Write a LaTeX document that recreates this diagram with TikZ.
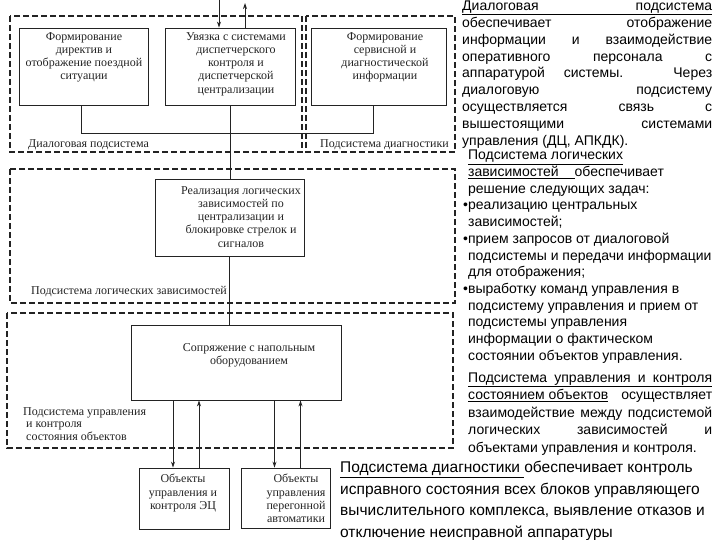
\documentclass[tikz,border=0pt]{standalone}
\usepackage{fontspec}
\setmainfont{Liberation Serif}
\newfontfamily\descfont{Liberation Sans}
\usetikzlibrary{arrows.meta}
\definecolor{inkgray}{RGB}{35,35,35}
\newcommand{\jline}[2]{\makebox[#1][s]{#2}}

\tikzset{
  block/.style={draw=inkgray, line width=0.9pt, inner sep=0pt},
  blocktext/.style={anchor=north, align=center, inner sep=0pt, text=inkgray,
    font=\fontsize{12}{13.3}\selectfont},
  framebox/.style={draw=inkgray, line width=1.6pt, dash pattern=on 6pt off 3pt},
  framelabel/.style={anchor=west, inner sep=0pt, text=inkgray,
    font=\fontsize{12}{12.7}\selectfont},
  link/.style={draw=inkgray, line width=0.9pt},
  flow/.style={link, -{Stealth[length=6pt,width=4pt]}},
  desc/.style={anchor=north west, align=left, inner sep=0pt,
    font=\descfont\fontsize{14}{17.2}\selectfont}
}

\begin{document}
\begin{tikzpicture}[x=1pt, y=-1pt]
    \useasboundingbox (0,0) rectangle (720,540);
    % Subsystem frames
    \draw[framebox] (10,16) rectangle (302,152);
    \draw[framebox] (306,16) rectangle (455,152);
    \draw[framebox] (10,169) rectangle (455,303);
    \draw[framebox] (7,313) rectangle (453,448);
    \node[framelabel] (dialoglabel) at (28,145) {Диалоговая подсистема};
    \node[framelabel] (diaglabel) at (320,145) {Подсистема диагностики};
    \node[framelabel] (logiclabel) at (31,292) {Подсистема логических зависимостей};
    \node[framelabel, anchor=north west, align=left] (controllabel) at (23,407)
        {Подсистема управления\\\ и контроля\\\ состояния объектов};

    % Blocks
    \node[block, minimum width=129pt, minimum height=77pt] (directives) at (83.5,66.5) {};
    \node[block, minimum width=130pt, minimum height=77pt] (dispatch) at (230,66.5) {};
    \node[block, minimum width=135pt, minimum height=77pt] (diaginfo) at (378.5,66.5) {};
    \node[block, minimum width=149pt, minimum height=77pt] (logic) at (229.5,217.5) {};
    \node[block, minimum width=210pt, minimum height=75pt] (interface) at (236,362.5) {};
    \node[block, minimum width=90pt, minimum height=61pt] (objstation) at (184,498.5) {};
    \node[block, minimum width=89pt, minimum height=60pt] (objline) at (285.5,498) {};

    \node[blocktext] (directivestext) at (84,32) {Формирование\\директив и\\отображение поездной\\ситуации};
    \node[blocktext] (dispatchtext) at (236,32) {Увязка с системами\\диспетчерского\\контроля и\\диспетчерской\\централизации};
    \node[blocktext] (diaginfotext) at (385,32) {Формирование\\сервисной и\\диагностической\\информации};
    \node[blocktext] (logictext) at (241,186) {Реализация логических\\зависимостей по\\централизации и\\блокировке стрелок и\\сигналов};
    \node[blocktext] (interfacetext) at (249,343) {Сопряжение с напольным\\оборудованием};
    \node[blocktext] (objstationtext) at (183,474) {Объекты\\управления и\\контроля ЭЦ};
    \node[blocktext] (objlinetext) at (296,474) {Объекты\\управления\\перегонной\\автоматики};

    % Connections
    \draw[link] ([xshift=-2.5pt]directives.south) -- ++(0,28) -| ([xshift=-5.5pt]diaginfo.south);
    \draw[link] (dispatch.south) -- (dispatch.south |- logic.north);
    \draw[link] (logic.south) -- (logic.south |- interface.north);

    \coordinate (feedin) at (219,0);
    \coordinate (feedout) at (245,3);
    \draw[flow] (feedin) -- (feedin |- dispatch.north);
    \draw[flow] (feedout |- dispatch.north) -- (feedout);

    \foreach \obj in {objstation, objline} {
        \path ([xshift=-11pt]\obj.north) coordinate (\obj-in)
              ([xshift=15pt]\obj.north) coordinate (\obj-out);
        \draw[flow] (interface.south -| \obj-in) -- (\obj-in);
        \draw[flow] (\obj-out) -- (interface.south -| \obj-out);
    }

    % Descriptions
    \node[desc, font=\descfont\fontsize{14}{16.9}\selectfont] (dialogdesc) at (462,0.5) {%
        \underline{\jline{250pt}{Диалоговая подсистема}}\\
        \jline{250pt}{обеспечивает отображение}\\
        \jline{250pt}{информации и взаимодействие}\\
        \jline{250pt}{оперативного персонала с}\\
        \jline{250pt}{аппаратурой системы. Через}\\
        \jline{250pt}{диалоговую подсистему}\\
        \jline{250pt}{осуществляется связь с}\\
        \jline{250pt}{вышестоящими системами}\\
        управления (ДЦ, АПКДК).};

    \node[desc, font=\descfont\fontsize{14}{16.7}\selectfont] (logicdesc) at (463,150) {%
        \phantom{•}\underline{Подсистема логических}\\
        \phantom{•}\underline{зависимостей\hspace{16pt}}обеспечивает\\
        \phantom{•}решение следующих задач:\\
        •реализацию центральных\\
        \phantom{•}зависимостей;\\
        •прием запросов от диалоговой\\
        \phantom{•}подсистемы и передачи информации\\
        \phantom{•}для отображения;\\
        •выработку команд управления в\\
        \phantom{•}подсистему управления и прием от\\
        \phantom{•}подсистемы управления\\
        \phantom{•}информации о фактическом\\
        \phantom{•}состоянии объектов управления.};

    \node[desc, font=\descfont\fontsize{14}{17.5}\selectfont] (controldesc) at (468,372.5) {%
        \underline{\jline{244pt}{Подсистема управления и контроля}}\\
        \jline{244pt}{\underline{состоянием объектов} осуществляет}\\
        \jline{244pt}{взаимодействие между подсистемой}\\
        \jline{244pt}{логических зависимостей и}\\
        объектами управления и контроля.};

    \node[desc, font=\descfont\fontsize{15.5}{21.7}\selectfont] (diagdesc) at (340,461) {%
        \underline{Подсистема диагностики\ }обеспечивает контроль\\
        исправного состояния всех блоков управляющего\\
        вычислительного комплекса, выявление отказов и\\
        отключение неисправной аппаратуры};
\end{tikzpicture}
\end{document}
